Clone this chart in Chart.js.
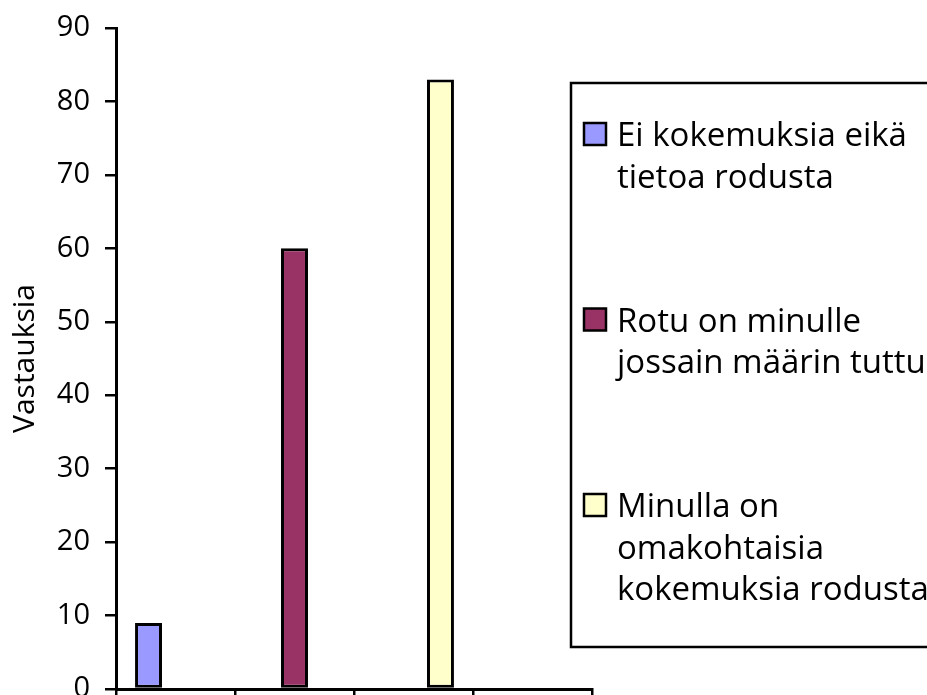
<!DOCTYPE html>
<html lang="fi">
<head>
  <meta charset="UTF-8" />
  <title>Vastauksia</title>
  <script src="https://cdn.jsdelivr.net/npm/chart.js"></script>
  <style>
    body {
      margin: 0;
      background-color: #ffffff;
      overflow: hidden;
    }
    #chart {
      display: block;
    }
  </style>
</head>
<body>
  <canvas id="chart" width="927" height="695"></canvas>

  <script>
    // four category slots on the x axis, all without a label
    const categories = ['', '', '', ''];
    const seriesNames = [
      ['Ei kokemuksia eikä', 'tietoa rodusta'],
      ['Rotu on minulle', 'jossain määrin tuttu'],
      ['Minulla on', 'omakohtaisia', 'kokemuksia rodusta']
    ];
    const seriesValues = [9, 60, 83];
    const seriesColors = ['#9999ff', '#993366', '#ffffcc'];
    const yMin = 0;
    const yMax = 90;
    const yStep = 10;

    const fontFamily = '"Open Sans", "Noto Sans", sans-serif';

    // each series sits in its own slot, like the original spreadsheet chart
    const datasets = seriesNames.map((name, i) => ({
      label: name.join(' '),
      data: categories.map((_, j) => (j === i ? seriesValues[i] : null)),
      backgroundColor: seriesColors[i],
      borderColor: '#000000',
      borderWidth: 3,
      borderSkipped: false,
      barPercentage: 1.0,
      categoryPercentage: 0.68
    }));

    // legend drawn by hand so the labels can wrap and the box can run off the edge
    const boxLegend = {
      id: 'boxLegend',
      afterDraw(chart) {
        const ctx = chart.ctx;
        ctx.save();
        ctx.lineWidth = 2.5;
        ctx.strokeStyle = '#000000';
        ctx.strokeRect(571, 83, 420, 564);

        ctx.font = '33px ' + fontFamily;
        ctx.textBaseline = 'alphabetic';
        ctx.textAlign = 'left';

        const lineHeight = 41.5;
        const entryGap = 144;
        let baseline = 146;
        chart.data.datasets.forEach((ds, i) => {
          const lines = seriesNames[i];
          // marker
          ctx.lineWidth = 2.5;
          ctx.fillStyle = ds.backgroundColor;
          ctx.fillRect(584, baseline - 23, 22, 22);
          ctx.strokeRect(584, baseline - 23, 22, 22);
          ctx.fillStyle = '#000000';
          lines.forEach((line, k) => {
            ctx.fillText(line, 617, baseline + k * lineHeight);
          });
          baseline += (lines.length - 1) * lineHeight + entryGap;
        });
        ctx.restore();
      }
    };

    new Chart(document.getElementById('chart'), {
      type: 'bar',
      data: {
        labels: categories,
        datasets: datasets
      },
      options: {
        responsive: false,
        animation: false,
        devicePixelRatio: 1,
        layout: {
          padding: { top: 28, right: 335, left: 0, bottom: 0 }
        },
        scales: {
          x: {
            offset: true,
            grid: {
              offset: true,
              drawOnChartArea: false,
              drawTicks: true,
              tickLength: 6,
              color: '#000000',
              lineWidth: 2.5
            },
            border: { color: '#000000', width: 3 },
            ticks: { display: false },
            afterFit(scale) {
              scale.height = 6;
              scale.paddingLeft = 0;
              scale.paddingRight = 0;
            }
          },
          y: {
            min: yMin,
            max: yMax,
            ticks: {
              stepSize: yStep,
              color: '#000000',
              padding: 15,
              font: { family: fontFamily, size: 29 }
            },
            grid: {
              drawOnChartArea: false,
              drawTicks: true,
              tickLength: 11,
              color: '#000000',
              lineWidth: 2.5
            },
            border: { color: '#000000', width: 3 },
            title: {
              display: true,
              text: 'Vastauksia',
              color: '#000000',
              font: { family: fontFamily, size: 30 },
              padding: { top: 7, bottom: 0 }
            },
            afterFit(scale) {
              scale.width = 116;
              scale.paddingTop = 0;
              scale.paddingBottom = 0;
            }
          }
        },
        plugins: {
          legend: { display: false },
          tooltip: { enabled: false }
        }
      },
      plugins: [boxLegend]
    });
  </script>
</body>
</html>
